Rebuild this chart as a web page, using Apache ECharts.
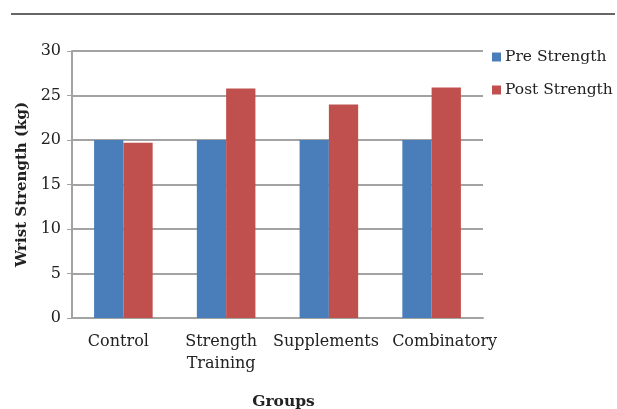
<!DOCTYPE html>
<html>
<head>
<meta charset="utf-8">
<script src="https://cdn.jsdelivr.net/npm/echarts@6/dist/echarts.min.js"></script>
<style>
  html, body { margin: 0; padding: 0; background: #fff; }
  #rule { position: absolute; left: 11px; top: 13px; width: 604px; height: 2px; background: #666; }
  #chart { width: 617px; height: 409px; }
</style>
</head>
<body>
<div id="rule"></div>
<div id="chart"></div>
<script>
// Wrist strength before and after each intervention
const groups = ['Control', 'Strength\nTraining', 'Supplements', 'Combinatory'];
const preStrength = [20.0, 20.0, 20.0, 20.0];
const postStrength = [19.7, 25.8, 24.0, 25.9];
const yTicks = { min: 0, max: 30, step: 5 };

const FONT = '"DejaVu Serif", serif';
const chart = echarts.init(document.getElementById('chart'), null, { renderer: 'canvas' });

// small horizontal nudges so neighbouring category labels don't collide
const labelShift = { 'Control': -5, 'Strength\nTraining': -5, 'Supplements': -3, 'Combinatory': 13 };

chart.setOption({
  animation: false,
  textStyle: { fontFamily: FONT, color: '#222' },
  grid: { left: 72, right: 134, top: 51, bottom: 91, containLabel: false, outerBoundsMode: 'none' },
  legend: {
    orient: 'vertical',
    left: 487,
    top: 44,
    itemWidth: 9,
    itemHeight: 9,
    itemGap: 17,
    icon: 'rect',
    textStyle: { fontFamily: FONT, fontSize: 15.5, color: '#222', padding: [0, 0, 0, -1] },
    data: ['Pre Strength', 'Post Strength']
  },
  xAxis: {
    type: 'category',
    data: groups,
    name: 'Groups',
    nameLocation: 'middle',
    nameGap: 76,
    nameTextStyle: { fontFamily: FONT, fontWeight: 'bold', fontSize: 15.5, color: '#222', padding: [0, 0, 0, 12] },
    axisLine: { lineStyle: { color: '#a3a3a3', width: 2 } },
    axisTick: { show: false },
    axisLabel: {
      fontFamily: FONT, fontSize: 16, color: '#222', margin: 13, lineHeight: 22, interval: 0,
      formatter: function (v) {
        const s = labelShift[v] || 0;
        const key = s >= 0 ? 'r' + s : 'l' + (-s);
        return v.split('\n').map(function (line) { return '{' + key + '|' + line + '}'; }).join('\n');
      },
      rich: (function () {
        const r = {};
        Object.keys(labelShift).forEach(function (k) {
          const s = labelShift[k];
          const key = s >= 0 ? 'r' + s : 'l' + (-s);
          r[key] = {
            fontFamily: FONT, fontSize: 16, color: '#222', lineHeight: 22,
            padding: s >= 0 ? [0, 0, 0, 2 * s] : [0, -2 * s, 0, 0]
          };
        });
        return r;
      })()
    }
  },
  yAxis: {
    type: 'value',
    min: yTicks.min,
    max: yTicks.max,
    interval: yTicks.step,
    name: 'Wrist Strength (kg)',
    nameLocation: 'middle',
    nameGap: 42,
    nameTextStyle: { fontFamily: FONT, fontWeight: 'bold', fontSize: 15, color: '#222' },
    axisLine: { show: true, lineStyle: { color: '#a3a3a3', width: 2 } },
    axisTick: { show: true, length: 5, lineStyle: { color: '#a3a3a3', width: 1 } },
    axisLabel: { fontFamily: FONT, fontSize: 16, color: '#222', margin: 11 },
    splitLine: { lineStyle: { color: '#a3a3a3', width: 2 } }
  },
  series: [
    {
      name: 'Pre Strength',
      type: 'bar',
      data: preStrength,
      barGap: '0%',
      barCategoryGap: '43%',
      itemStyle: { color: '#4a7ebb' }
    },
    {
      name: 'Post Strength',
      type: 'bar',
      data: postStrength,
      barGap: '0%',
      barCategoryGap: '43%',
      itemStyle: { color: '#c0504d' }
    }
  ]
});
</script>
</body>
</html>
